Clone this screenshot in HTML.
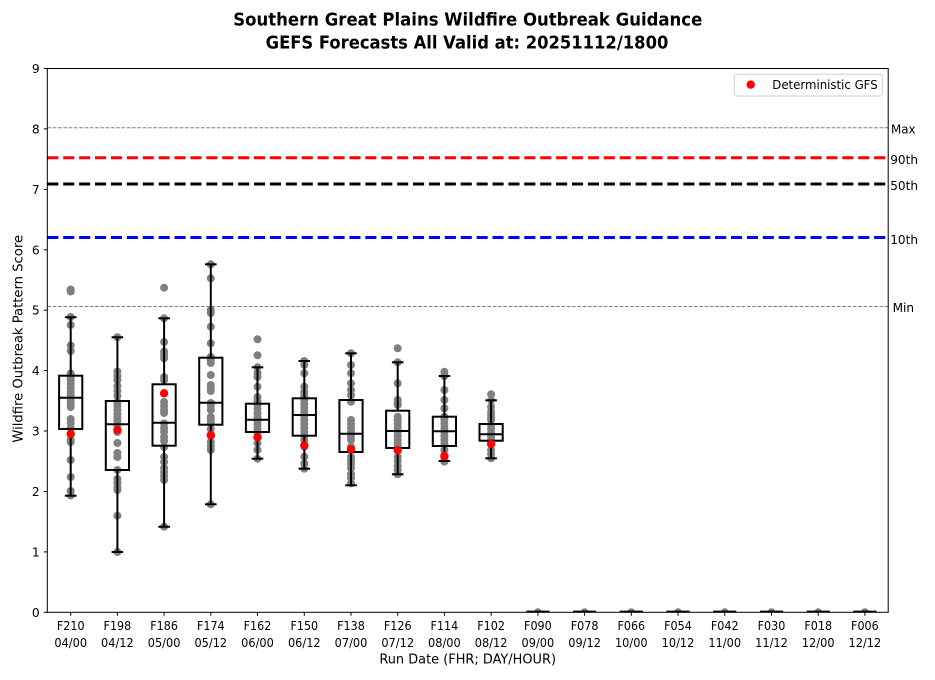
<!DOCTYPE html>
<html><head><meta charset="utf-8"><style>
html,body{margin:0;padding:0;background:#fff;}
svg{display:block;}
text{font-family:"DejaVu Sans","Liberation Sans",sans-serif;fill:#000;}
</style></head><body>
<svg width="935" height="680" viewBox="0 0 935 680" xmlns="http://www.w3.org/2000/svg">
<defs><clipPath id="pa"><rect x="47.3" y="68.5" width="840.9" height="543.8"/></clipPath></defs>
<rect x="0" y="0" width="935" height="680" fill="#fff"/>

<!-- Title -->
<text x="467.8" y="25.7" font-size="18" font-weight="bold" text-anchor="middle" textLength="469" lengthAdjust="spacingAndGlyphs">Southern Great Plains Wildfire Outbreak Guidance</text>
<text x="467" y="48.3" font-size="18" font-weight="bold" text-anchor="middle" textLength="402.7" lengthAdjust="spacingAndGlyphs">GEFS Forecasts All Valid at: 20251112/1800</text>

<!-- reference lines -->
<g clip-path="url(#pa)">
<line x1="47.3" y1="127.8" x2="888" y2="127.8" stroke="#808080" stroke-width="1" stroke-dasharray="3.7 1.6"/>
<line x1="47.3" y1="306.5" x2="888" y2="306.5" stroke="#808080" stroke-width="1" stroke-dasharray="3.7 1.6"/>
<line x1="47.3" y1="157.7" x2="888" y2="157.7" stroke="#ff0000" stroke-width="3" stroke-dasharray="11.1 4.8"/>
<line x1="47.3" y1="184" x2="888" y2="184" stroke="#000" stroke-width="3" stroke-dasharray="11.1 4.8"/>
<line x1="47.3" y1="237.5" x2="888" y2="237.5" stroke="#0000ff" stroke-width="3" stroke-dasharray="11.1 4.8"/>

<!-- gray member dots -->
<g fill="#808080">
<!-- col0 -->
<circle cx="70.7" cy="289.5" r="4"/><circle cx="70.7" cy="291.5" r="4"/><circle cx="70.7" cy="317" r="4"/><circle cx="70.7" cy="325" r="4"/><circle cx="70.7" cy="345.5" r="4"/><circle cx="70.7" cy="351" r="4"/><circle cx="70.7" cy="373.5" r="4"/><circle cx="70.7" cy="377" r="4"/><circle cx="70.7" cy="380" r="4"/><circle cx="70.7" cy="384" r="4"/><circle cx="70.7" cy="388" r="4"/><circle cx="70.7" cy="392" r="4"/><circle cx="70.7" cy="395" r="4"/><circle cx="70.7" cy="398" r="4"/><circle cx="70.7" cy="401" r="4"/><circle cx="70.7" cy="404" r="4"/><circle cx="70.7" cy="407" r="4"/><circle cx="70.7" cy="419" r="4"/><circle cx="70.7" cy="423" r="4"/><circle cx="70.7" cy="428" r="4"/><circle cx="70.7" cy="440" r="4"/><circle cx="70.7" cy="442" r="4"/><circle cx="70.7" cy="460" r="4"/><circle cx="70.7" cy="477" r="4"/><circle cx="70.7" cy="491" r="4"/><circle cx="70.7" cy="495.5" r="4"/>
<!-- col1 -->
<circle cx="117.4" cy="337.3" r="4"/><circle cx="117.4" cy="371.5" r="4"/><circle cx="117.4" cy="376" r="4"/><circle cx="117.4" cy="380" r="4"/><circle cx="117.4" cy="386" r="4"/><circle cx="117.4" cy="391" r="4"/><circle cx="117.4" cy="396" r="4"/><circle cx="117.4" cy="402" r="4"/><circle cx="117.4" cy="406" r="4"/><circle cx="117.4" cy="410" r="4"/><circle cx="117.4" cy="414" r="4"/><circle cx="117.4" cy="418" r="4"/><circle cx="117.4" cy="421" r="4"/><circle cx="117.4" cy="425" r="4"/><circle cx="117.4" cy="432" r="4"/><circle cx="117.4" cy="443" r="4"/><circle cx="117.4" cy="453" r="4"/><circle cx="117.4" cy="457" r="4"/><circle cx="117.4" cy="470" r="4"/><circle cx="117.4" cy="479" r="4"/><circle cx="117.4" cy="483" r="4"/><circle cx="117.4" cy="487" r="4"/><circle cx="117.4" cy="490" r="4"/><circle cx="117.4" cy="515.7" r="4"/><circle cx="117.4" cy="552" r="4"/>
<!-- col2 -->
<circle cx="164.1" cy="287.7" r="4"/><circle cx="164.1" cy="318.3" r="4"/><circle cx="164.1" cy="342" r="4"/><circle cx="164.1" cy="351.5" r="4"/><circle cx="164.1" cy="355" r="4"/><circle cx="164.1" cy="358.3" r="4"/><circle cx="164.1" cy="377" r="4"/><circle cx="164.1" cy="380" r="4"/><circle cx="164.1" cy="402" r="4"/><circle cx="164.1" cy="406" r="4"/><circle cx="164.1" cy="410" r="4"/><circle cx="164.1" cy="413" r="4"/><circle cx="164.1" cy="423.5" r="4"/><circle cx="164.1" cy="428" r="4"/><circle cx="164.1" cy="432" r="4"/><circle cx="164.1" cy="437" r="4"/><circle cx="164.1" cy="441" r="4"/><circle cx="164.1" cy="447" r="4"/><circle cx="164.1" cy="457" r="4"/><circle cx="164.1" cy="462" r="4"/><circle cx="164.1" cy="468" r="4"/><circle cx="164.1" cy="472" r="4"/><circle cx="164.1" cy="476" r="4"/><circle cx="164.1" cy="480" r="4"/><circle cx="164.1" cy="526.7" r="4"/>
<!-- col3 -->
<circle cx="210.8" cy="264.3" r="4"/><circle cx="210.8" cy="278.3" r="4"/><circle cx="210.8" cy="310" r="4"/><circle cx="210.8" cy="313" r="4"/><circle cx="210.8" cy="326.7" r="4"/><circle cx="210.8" cy="343.3" r="4"/><circle cx="210.8" cy="357" r="4"/><circle cx="210.8" cy="360" r="4"/><circle cx="210.8" cy="363" r="4"/><circle cx="210.8" cy="375" r="4"/><circle cx="210.8" cy="385" r="4"/><circle cx="210.8" cy="388" r="4"/><circle cx="210.8" cy="391" r="4"/><circle cx="210.8" cy="403" r="4"/><circle cx="210.8" cy="406" r="4"/><circle cx="210.8" cy="410" r="4"/><circle cx="210.8" cy="417" r="4"/><circle cx="210.8" cy="420" r="4"/><circle cx="210.8" cy="423" r="4"/><circle cx="210.8" cy="429" r="4"/><circle cx="210.8" cy="436" r="4"/><circle cx="210.8" cy="441.7" r="4"/><circle cx="210.8" cy="446" r="4"/><circle cx="210.8" cy="450" r="4"/><circle cx="210.8" cy="504.3" r="4"/>
<!-- col4 -->
<circle cx="257.5" cy="339.3" r="4"/><circle cx="257.5" cy="355.3" r="4"/><circle cx="257.5" cy="367.3" r="4"/><circle cx="257.5" cy="373" r="4"/><circle cx="257.5" cy="377" r="4"/><circle cx="257.5" cy="386.7" r="4"/><circle cx="257.5" cy="397" r="4"/><circle cx="257.5" cy="401" r="4"/><circle cx="257.5" cy="405" r="4"/><circle cx="257.5" cy="409" r="4"/><circle cx="257.5" cy="413" r="4"/><circle cx="257.5" cy="417" r="4"/><circle cx="257.5" cy="421" r="4"/><circle cx="257.5" cy="425" r="4"/><circle cx="257.5" cy="429" r="4"/><circle cx="257.5" cy="433" r="4"/><circle cx="257.5" cy="443.3" r="4"/><circle cx="257.5" cy="450" r="4"/><circle cx="257.5" cy="458.7" r="4"/>
<!-- col5 -->
<circle cx="304.3" cy="361" r="4"/><circle cx="304.3" cy="365" r="4"/><circle cx="304.3" cy="373.3" r="4"/><circle cx="304.3" cy="386.7" r="4"/><circle cx="304.3" cy="391.7" r="4"/><circle cx="304.3" cy="396" r="4"/><circle cx="304.3" cy="400" r="4"/><circle cx="304.3" cy="404" r="4"/><circle cx="304.3" cy="408" r="4"/><circle cx="304.3" cy="412" r="4"/><circle cx="304.3" cy="416" r="4"/><circle cx="304.3" cy="420" r="4"/><circle cx="304.3" cy="424" r="4"/><circle cx="304.3" cy="428" r="4"/><circle cx="304.3" cy="432" r="4"/><circle cx="304.3" cy="436" r="4"/><circle cx="304.3" cy="440" r="4"/><circle cx="304.3" cy="446.7" r="4"/><circle cx="304.3" cy="456.7" r="4"/><circle cx="304.3" cy="463.3" r="4"/><circle cx="304.3" cy="468.7" r="4"/>
<!-- col6 -->
<circle cx="351" cy="353.3" r="4"/><circle cx="351" cy="365" r="4"/><circle cx="351" cy="373.3" r="4"/><circle cx="351" cy="383.3" r="4"/><circle cx="351" cy="390" r="4"/><circle cx="351" cy="395" r="4"/><circle cx="351" cy="401.7" r="4"/><circle cx="351" cy="420" r="4"/><circle cx="351" cy="424" r="4"/><circle cx="351" cy="428" r="4"/><circle cx="351" cy="432" r="4"/><circle cx="351" cy="436" r="4"/><circle cx="351" cy="440" r="4"/><circle cx="351" cy="446.7" r="4"/><circle cx="351" cy="456.7" r="4"/><circle cx="351" cy="460" r="4"/><circle cx="351" cy="464" r="4"/><circle cx="351" cy="468" r="4"/><circle cx="351" cy="474" r="4"/><circle cx="351" cy="478" r="4"/><circle cx="351" cy="483.3" r="4"/>
<!-- col7 -->
<circle cx="397.7" cy="348.3" r="4"/><circle cx="397.7" cy="362.3" r="4"/><circle cx="397.7" cy="383.3" r="4"/><circle cx="397.7" cy="400" r="4"/><circle cx="397.7" cy="403" r="4"/><circle cx="397.7" cy="405" r="4"/><circle cx="397.7" cy="416.7" r="4"/><circle cx="397.7" cy="420" r="4"/><circle cx="397.7" cy="424" r="4"/><circle cx="397.7" cy="428" r="4"/><circle cx="397.7" cy="432" r="4"/><circle cx="397.7" cy="436" r="4"/><circle cx="397.7" cy="440" r="4"/><circle cx="397.7" cy="444" r="4"/><circle cx="397.7" cy="446.7" r="4"/><circle cx="397.7" cy="457" r="4"/><circle cx="397.7" cy="461" r="4"/><circle cx="397.7" cy="466" r="4"/><circle cx="397.7" cy="470" r="4"/><circle cx="397.7" cy="474.3" r="4"/>
<!-- col8 -->
<circle cx="444.4" cy="371.7" r="4"/><circle cx="444.4" cy="376" r="4"/><circle cx="444.4" cy="390" r="4"/><circle cx="444.4" cy="400" r="4"/><circle cx="444.4" cy="408.3" r="4"/><circle cx="444.4" cy="416.7" r="4"/><circle cx="444.4" cy="420" r="4"/><circle cx="444.4" cy="424" r="4"/><circle cx="444.4" cy="428" r="4"/><circle cx="444.4" cy="432" r="4"/><circle cx="444.4" cy="436" r="4"/><circle cx="444.4" cy="440" r="4"/><circle cx="444.4" cy="444" r="4"/><circle cx="444.4" cy="450" r="4"/><circle cx="444.4" cy="459" r="4"/><circle cx="444.4" cy="461.7" r="4"/>
<!-- col9 -->
<circle cx="491.1" cy="394.3" r="4"/><circle cx="491.1" cy="400.3" r="4"/><circle cx="491.1" cy="406.7" r="4"/><circle cx="491.1" cy="411.7" r="4"/><circle cx="491.1" cy="415" r="4"/><circle cx="491.1" cy="418" r="4"/><circle cx="491.1" cy="420" r="4"/><circle cx="491.1" cy="425" r="4"/><circle cx="491.1" cy="429" r="4"/><circle cx="491.1" cy="433" r="4"/><circle cx="491.1" cy="437" r="4"/><circle cx="491.1" cy="440" r="4"/><circle cx="491.1" cy="450" r="4"/><circle cx="491.1" cy="454" r="4"/><circle cx="491.1" cy="458.3" r="4"/>
<!-- zero cols -->
<circle cx="537.9" cy="612.3" r="4"/><circle cx="584.6" cy="612.3" r="4"/><circle cx="631.3" cy="612.3" r="4"/><circle cx="678" cy="612.3" r="4"/><circle cx="724.7" cy="612.3" r="4"/><circle cx="771.5" cy="612.3" r="4"/><circle cx="818.2" cy="612.3" r="4"/><circle cx="864.9" cy="612.3" r="4"/>
</g>

<!-- boxes -->
<g stroke="#000" stroke-width="2" fill="none">
<!-- col0 -->
<rect x="59.1" y="375.7" width="23.2" height="53.3"/><line x1="59.1" y1="397.7" x2="82.3" y2="397.7"/>
<line x1="70.7" y1="375.7" x2="70.7" y2="317.3"/><line x1="70.7" y1="429" x2="70.7" y2="495.7"/>
<line x1="64.9" y1="317.3" x2="76.5" y2="317.3"/><line x1="64.9" y1="495.7" x2="76.5" y2="495.7"/>
<!-- col1 -->
<rect x="105.8" y="401" width="23.2" height="69"/><line x1="105.8" y1="424.3" x2="129" y2="424.3"/>
<line x1="117.4" y1="401" x2="117.4" y2="337.3"/><line x1="117.4" y1="470" x2="117.4" y2="552"/>
<line x1="111.6" y1="337.3" x2="123.2" y2="337.3"/><line x1="111.6" y1="552" x2="123.2" y2="552"/>
<!-- col2 -->
<rect x="152.5" y="384.3" width="23.2" height="61.4"/><line x1="152.5" y1="422.7" x2="175.7" y2="422.7"/>
<line x1="164.1" y1="384.3" x2="164.1" y2="318.3"/><line x1="164.1" y1="445.7" x2="164.1" y2="526.7"/>
<line x1="158.3" y1="318.3" x2="169.9" y2="318.3"/><line x1="158.3" y1="526.7" x2="169.9" y2="526.7"/>
<!-- col3 -->
<rect x="199.2" y="357.7" width="23.2" height="67"/><line x1="199.2" y1="402.7" x2="222.4" y2="402.7"/>
<line x1="210.8" y1="357.7" x2="210.8" y2="264.3"/><line x1="210.8" y1="424.7" x2="210.8" y2="504.3"/>
<line x1="205" y1="264.3" x2="216.6" y2="264.3"/><line x1="205" y1="504.3" x2="216.6" y2="504.3"/>
<!-- col4 -->
<rect x="245.9" y="403.7" width="23.2" height="28.3"/><line x1="245.9" y1="419.7" x2="269.1" y2="419.7"/>
<line x1="257.5" y1="403.7" x2="257.5" y2="367.3"/><line x1="257.5" y1="432" x2="257.5" y2="458.7"/>
<line x1="251.7" y1="367.3" x2="263.3" y2="367.3"/><line x1="251.7" y1="458.7" x2="263.3" y2="458.7"/>
<!-- col5 -->
<rect x="292.7" y="398.3" width="23.2" height="37.4"/><line x1="292.7" y1="415" x2="315.9" y2="415"/>
<line x1="304.3" y1="398.3" x2="304.3" y2="361"/><line x1="304.3" y1="435.7" x2="304.3" y2="468.7"/>
<line x1="298.5" y1="361" x2="310.1" y2="361"/><line x1="298.5" y1="468.7" x2="310.1" y2="468.7"/>
<!-- col6 -->
<rect x="339.4" y="400" width="23.2" height="52"/><line x1="339.4" y1="433.7" x2="362.6" y2="433.7"/>
<line x1="351" y1="400" x2="351" y2="353.3"/><line x1="351" y1="452" x2="351" y2="485.3"/>
<line x1="345.2" y1="353.3" x2="356.8" y2="353.3"/><line x1="345.2" y1="485.3" x2="356.8" y2="485.3"/>
<!-- col7 -->
<rect x="386.1" y="410.7" width="23.2" height="37.3"/><line x1="386.1" y1="431" x2="409.3" y2="431"/>
<line x1="397.7" y1="410.7" x2="397.7" y2="362.3"/><line x1="397.7" y1="448" x2="397.7" y2="474.3"/>
<line x1="391.9" y1="362.3" x2="403.5" y2="362.3"/><line x1="391.9" y1="474.3" x2="403.5" y2="474.3"/>
<!-- col8 -->
<rect x="432.8" y="416.7" width="23.2" height="29.3"/><line x1="432.8" y1="431.3" x2="456" y2="431.3"/>
<line x1="444.4" y1="416.7" x2="444.4" y2="376"/><line x1="444.4" y1="446" x2="444.4" y2="461"/>
<line x1="438.6" y1="376" x2="450.2" y2="376"/><line x1="438.6" y1="461" x2="450.2" y2="461"/>
<!-- col9 -->
<rect x="479.5" y="424" width="23.2" height="16.7"/><line x1="479.5" y1="434.3" x2="502.7" y2="434.3"/>
<line x1="491.1" y1="424" x2="491.1" y2="400.3"/><line x1="491.1" y1="440.7" x2="491.1" y2="458.3"/>
<line x1="485.3" y1="400.3" x2="496.9" y2="400.3"/><line x1="485.3" y1="458.3" x2="496.9" y2="458.3"/>
<!-- zero cols -->
<line x1="526.3" y1="611.6" x2="549.5" y2="611.6"/>
<line x1="573" y1="611.6" x2="596.2" y2="611.6"/>
<line x1="619.7" y1="611.6" x2="642.9" y2="611.6"/>
<line x1="666.4" y1="611.6" x2="689.6" y2="611.6"/>
<line x1="713.1" y1="611.6" x2="736.3" y2="611.6"/>
<line x1="759.9" y1="611.6" x2="783.1" y2="611.6"/>
<line x1="806.6" y1="611.6" x2="829.8" y2="611.6"/>
<line x1="853.3" y1="611.6" x2="876.5" y2="611.6"/>
</g>

<!-- deterministic red dots -->
<g fill="#ff0000">
<circle cx="70.7" cy="434" r="4.2"/><circle cx="117.4" cy="430" r="4.2"/><circle cx="164.1" cy="393.3" r="4.2"/><circle cx="210.8" cy="435" r="4.2"/><circle cx="257.5" cy="437.3" r="4.2"/><circle cx="304.3" cy="445.3" r="4.2"/><circle cx="351" cy="449.3" r="4.2"/><circle cx="397.7" cy="450.3" r="4.2"/><circle cx="444.4" cy="456" r="4.2"/><circle cx="491.1" cy="444" r="4.2"/>
</g>
</g>

<!-- axes frame -->
<rect x="47.3" y="68.5" width="840.9" height="543.8" fill="none" stroke="#000" stroke-width="1"/>

<!-- y ticks -->
<g stroke="#000" stroke-width="1">
<line x1="43.8" y1="612.3" x2="47.3" y2="612.3"/><line x1="43.8" y1="551.9" x2="47.3" y2="551.9"/><line x1="43.8" y1="491.5" x2="47.3" y2="491.5"/><line x1="43.8" y1="431" x2="47.3" y2="431"/><line x1="43.8" y1="370.6" x2="47.3" y2="370.6"/><line x1="43.8" y1="310.2" x2="47.3" y2="310.2"/><line x1="43.8" y1="249.8" x2="47.3" y2="249.8"/><line x1="43.8" y1="189.4" x2="47.3" y2="189.4"/><line x1="43.8" y1="128.9" x2="47.3" y2="128.9"/><line x1="43.8" y1="68.5" x2="47.3" y2="68.5"/>
</g>
<g font-size="12.3" text-anchor="end">
<text x="39.7" y="616.8">0</text><text x="39.7" y="556.4">1</text><text x="39.7" y="496">2</text><text x="39.7" y="435.5">3</text><text x="39.7" y="375.1">4</text><text x="39.7" y="314.7">5</text><text x="39.7" y="254.3">6</text><text x="39.7" y="193.9">7</text><text x="39.7" y="133.4">8</text><text x="39.7" y="73">9</text>
</g>

<!-- x ticks -->
<g stroke="#000" stroke-width="1">
<line x1="70.7" y1="612.3" x2="70.7" y2="615.8"/><line x1="117.4" y1="612.3" x2="117.4" y2="615.8"/><line x1="164.1" y1="612.3" x2="164.1" y2="615.8"/><line x1="210.8" y1="612.3" x2="210.8" y2="615.8"/><line x1="257.5" y1="612.3" x2="257.5" y2="615.8"/><line x1="304.3" y1="612.3" x2="304.3" y2="615.8"/><line x1="351" y1="612.3" x2="351" y2="615.8"/><line x1="397.7" y1="612.3" x2="397.7" y2="615.8"/><line x1="444.4" y1="612.3" x2="444.4" y2="615.8"/><line x1="491.1" y1="612.3" x2="491.1" y2="615.8"/><line x1="537.9" y1="612.3" x2="537.9" y2="615.8"/><line x1="584.6" y1="612.3" x2="584.6" y2="615.8"/><line x1="631.3" y1="612.3" x2="631.3" y2="615.8"/><line x1="678" y1="612.3" x2="678" y2="615.8"/><line x1="724.7" y1="612.3" x2="724.7" y2="615.8"/><line x1="771.5" y1="612.3" x2="771.5" y2="615.8"/><line x1="818.2" y1="612.3" x2="818.2" y2="615.8"/><line x1="864.9" y1="612.3" x2="864.9" y2="615.8"/>
</g>
<g font-size="12.3" text-anchor="middle" lengthAdjust="spacingAndGlyphs">
<text x="70.7" y="630.2" textLength="27.7" lengthAdjust="spacingAndGlyphs">F210</text><text x="70.7" y="646.8" textLength="32.7" lengthAdjust="spacingAndGlyphs">04/00</text>
<text x="117.4" y="630.2" textLength="27.7" lengthAdjust="spacingAndGlyphs">F198</text><text x="117.4" y="646.8" textLength="32.7" lengthAdjust="spacingAndGlyphs">04/12</text>
<text x="164.1" y="630.2" textLength="27.7" lengthAdjust="spacingAndGlyphs">F186</text><text x="164.1" y="646.8" textLength="32.7" lengthAdjust="spacingAndGlyphs">05/00</text>
<text x="210.8" y="630.2" textLength="27.7" lengthAdjust="spacingAndGlyphs">F174</text><text x="210.8" y="646.8" textLength="32.7" lengthAdjust="spacingAndGlyphs">05/12</text>
<text x="257.5" y="630.2" textLength="27.7" lengthAdjust="spacingAndGlyphs">F162</text><text x="257.5" y="646.8" textLength="32.7" lengthAdjust="spacingAndGlyphs">06/00</text>
<text x="304.3" y="630.2" textLength="27.7" lengthAdjust="spacingAndGlyphs">F150</text><text x="304.3" y="646.8" textLength="32.7" lengthAdjust="spacingAndGlyphs">06/12</text>
<text x="351" y="630.2" textLength="27.7" lengthAdjust="spacingAndGlyphs">F138</text><text x="351" y="646.8" textLength="32.7" lengthAdjust="spacingAndGlyphs">07/00</text>
<text x="397.7" y="630.2" textLength="27.7" lengthAdjust="spacingAndGlyphs">F126</text><text x="397.7" y="646.8" textLength="32.7" lengthAdjust="spacingAndGlyphs">07/12</text>
<text x="444.4" y="630.2" textLength="27.7" lengthAdjust="spacingAndGlyphs">F114</text><text x="444.4" y="646.8" textLength="32.7" lengthAdjust="spacingAndGlyphs">08/00</text>
<text x="491.1" y="630.2" textLength="27.7" lengthAdjust="spacingAndGlyphs">F102</text><text x="491.1" y="646.8" textLength="32.7" lengthAdjust="spacingAndGlyphs">08/12</text>
<text x="537.9" y="630.2" textLength="27.7" lengthAdjust="spacingAndGlyphs">F090</text><text x="537.9" y="646.8" textLength="32.7" lengthAdjust="spacingAndGlyphs">09/00</text>
<text x="584.6" y="630.2" textLength="27.7" lengthAdjust="spacingAndGlyphs">F078</text><text x="584.6" y="646.8" textLength="32.7" lengthAdjust="spacingAndGlyphs">09/12</text>
<text x="631.3" y="630.2" textLength="27.7" lengthAdjust="spacingAndGlyphs">F066</text><text x="631.3" y="646.8" textLength="32.7" lengthAdjust="spacingAndGlyphs">10/00</text>
<text x="678" y="630.2" textLength="27.7" lengthAdjust="spacingAndGlyphs">F054</text><text x="678" y="646.8" textLength="32.7" lengthAdjust="spacingAndGlyphs">10/12</text>
<text x="724.7" y="630.2" textLength="27.7" lengthAdjust="spacingAndGlyphs">F042</text><text x="724.7" y="646.8" textLength="32.7" lengthAdjust="spacingAndGlyphs">11/00</text>
<text x="771.5" y="630.2" textLength="27.7" lengthAdjust="spacingAndGlyphs">F030</text><text x="771.5" y="646.8" textLength="32.7" lengthAdjust="spacingAndGlyphs">11/12</text>
<text x="818.2" y="630.2" textLength="27.7" lengthAdjust="spacingAndGlyphs">F018</text><text x="818.2" y="646.8" textLength="32.7" lengthAdjust="spacingAndGlyphs">12/00</text>
<text x="864.9" y="630.2" textLength="27.7" lengthAdjust="spacingAndGlyphs">F006</text><text x="864.9" y="646.8" textLength="32.7" lengthAdjust="spacingAndGlyphs">12/12</text>
</g>

<!-- axis labels -->
<text x="467.7" y="663.3" font-size="13.5" text-anchor="middle" textLength="176.7" lengthAdjust="spacingAndGlyphs">Run Date (FHR; DAY/HOUR)</text>
<text transform="translate(22.7,338.8) rotate(-90)" x="0" y="0" font-size="13.2" text-anchor="middle" textLength="207.7" lengthAdjust="spacingAndGlyphs">Wildfire Outbreak Pattern Score</text>

<!-- right labels -->
<g font-size="12.8">
<text x="891" y="133.5" textLength="24.6" lengthAdjust="spacingAndGlyphs">Max</text>
<text x="890.2" y="163.8" textLength="27.8" lengthAdjust="spacingAndGlyphs">90th</text>
<text x="890.2" y="190.2" textLength="27.8" lengthAdjust="spacingAndGlyphs">50th</text>
<text x="890.2" y="243.8" textLength="27.8" lengthAdjust="spacingAndGlyphs">10th</text>
<text x="892.6" y="312.2" textLength="21.5" lengthAdjust="spacingAndGlyphs">Min</text>
</g>

<!-- legend -->
<rect x="734.3" y="74.3" width="148" height="21.7" rx="2.5" ry="2.5" fill="#fff" fill-opacity="0.8" stroke="#d0d0d0" stroke-width="1"/>
<circle cx="750.7" cy="84.6" r="4.2" fill="#ff0000"/>
<text x="772.3" y="89" font-size="12" textLength="105.4" lengthAdjust="spacingAndGlyphs">Deterministic GFS</text>
</svg>
</body></html>
